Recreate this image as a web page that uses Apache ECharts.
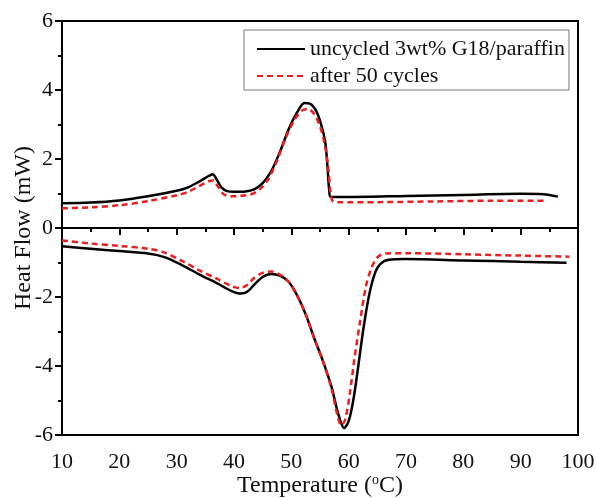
<!DOCTYPE html>
<html>
<head>
<meta charset="utf-8">
<script src="https://cdn.jsdelivr.net/npm/echarts@6/dist/echarts.min.js"></script>
<style>
  html, body { margin: 0; padding: 0; background: #fff; }
  #chart { width: 597px; height: 498px; }
</style>
</head>
<body>
<div id="chart"></div>
<script>
// DSC curves, [temperature, heat flow]
var uncycledHeating = [[10,0.72],[15,0.74],[20,0.8],[25,0.92],[30,1.08],[32,1.18],[34,1.35],[35.5,1.5],[36.3,1.56],[37,1.4],[37.8,1.18],[38.8,1.07],[40,1.05],[42,1.06],[43.5,1.12],[45,1.3],[46.5,1.65],[48,2.2],[49.5,2.85],[51,3.35],[52.3,3.62],[53.3,3.6],[54.3,3.4],[55.2,3.0],[55.9,2.5],[56.3,1.8],[56.6,1.1],[56.9,0.9],[60,0.9],[70,0.93],[80,0.96],[90,0.99],[94,0.98],[96.5,0.91]]
var cycledHeating = [[10,0.57],[15,0.6],[20,0.66],[25,0.78],[30,0.95],[32,1.05],[34,1.22],[35.5,1.35],[36.4,1.38],[37.2,1.2],[38.2,0.98],[39.5,0.92],[41,0.93],[43,0.98],[44.5,1.12],[46,1.42],[47.5,1.95],[49,2.6],[50.5,3.12],[52,3.42],[53,3.44],[54,3.3],[55,2.95],[55.8,2.45],[56.4,1.8],[56.8,1.1],[57.2,0.78],[58,0.75],[65,0.75],[75,0.77],[85,0.79],[94,0.79]]
var uncycledCooling = [[10,-0.53],[15,-0.6],[20,-0.67],[25,-0.74],[28,-0.85],[31,-1.08],[34,-1.35],[37,-1.6],[39.5,-1.82],[41.2,-1.9],[42.3,-1.85],[43.5,-1.65],[45,-1.42],[46.5,-1.33],[48,-1.38],[49.5,-1.55],[51,-1.95],[52.5,-2.5],[54,-3.2],[55.5,-3.85],[57,-4.6],[58.2,-5.4],[59.2,-5.8],[60,-5.6],[60.8,-5],[61.6,-4.1],[62.5,-3.0],[63.5,-2.0],[64.5,-1.35],[65.5,-1.05],[67,-0.92],[70,-0.9],[80,-0.94],[90,-0.98],[98,-1.01]]
var cycledCooling = [[10,-0.36],[15,-0.45],[20,-0.52],[25,-0.6],[28,-0.72],[31,-0.96],[34,-1.23],[37,-1.47],[39.5,-1.68],[41,-1.74],[42.3,-1.65],[43.5,-1.45],[45,-1.3],[46.5,-1.26],[48,-1.35],[49.5,-1.55],[51,-1.95],[52.5,-2.5],[54,-3.2],[55.5,-3.85],[57,-4.65],[58,-5.4],[58.7,-5.72],[59.4,-5.55],[60.2,-4.8],[61,-3.8],[62,-2.7],[63,-1.7],[64,-1.15],[65,-0.85],[66.5,-0.74],[70,-0.73],[80,-0.76],[90,-0.8],[98.5,-0.83]]

var seriesNames = ['uncycled 3wt% G18/paraffin', 'after 50 cycles']

var font = 'Liberation Serif, Times New Roman, serif'
var myChart = echarts.init(document.getElementById('chart'))

function lineSeries(name, data, dashed) {
  return {
    name: name,
    type: 'line',
    data: data,
    symbol: 'none',
    smooth: 0.3,
    lineStyle: {
      color: dashed ? '#ee1c1c' : '#000',
      width: 2.5,
      type: dashed ? [6, 4] : 'solid'
    },
    itemStyle: { color: dashed ? '#ee1c1c' : '#000' }
  }
}

var option = {
  backgroundColor: '#fff',
  animation: false,
  grid: {
    left: 62, right: 19, top: 21, bottom: 63,
    outerBoundsMode: 'none',
    containLabel: false,
    show: true,
    borderColor: '#000',
    borderWidth: 2
  },
  legend: {
    left: 244, top: 30,
    orient: 'vertical',
    align: 'left',
    data: seriesNames,
    itemWidth: 48,
    itemHeight: 14,
    itemGap: 5,
    padding: [8, 4, 3, 12],
    borderColor: '#777',
    borderWidth: 1,
    itemStyle: { opacity: 0 },
    textStyle: { fontFamily: font, fontSize: 22, color: '#111' }
  },
  xAxis: {
    type: 'value',
    min: 10, max: 100, interval: 10,
    name: 'Temperature ({sup|o}C)',
    nameLocation: 'middle',
    nameGap: 38,
    nameMoveOverlap: false,
    nameTextStyle: {
      fontFamily: font, fontSize: 24, color: '#111',
      rich: { sup: { fontFamily: font, fontSize: 14, verticalAlign: 'top', padding: [0, 0, 12, 0] } }
    },
    axisLine: { lineStyle: { color: '#000', width: 2 } },
    axisTick: { inside: false, length: 7, lineStyle: { width: 2 } },
    minorTick: { show: true, splitNumber: 2, length: 4, lineStyle: { color: '#000', width: 2 } },
    axisLabel: { fontFamily: font, fontSize: 22, color: '#111', margin: 16 },
    splitLine: { show: false }
  },
  yAxis: {
    type: 'value',
    min: -6, max: 6, interval: 2,
    name: 'Heat Flow (mW)',
    nameLocation: 'middle',
    nameGap: 26,
    nameMoveOverlap: false,
    nameTextStyle: { fontFamily: font, fontSize: 24, color: '#111' },
    axisLine: { lineStyle: { color: '#000', width: 2 } },
    axisTick: { inside: false, length: 7, lineStyle: { width: 2 } },
    minorTick: { show: true, splitNumber: 2, length: 4, lineStyle: { color: '#000', width: 2 } },
    axisLabel: { fontFamily: font, fontSize: 22, color: '#111', margin: 9 },
    splitLine: { show: false }
  },
  series: [
    lineSeries(seriesNames[0], uncycledHeating, false),
    lineSeries(seriesNames[1], cycledHeating, true),
    lineSeries(seriesNames[0], uncycledCooling, false),
    lineSeries(seriesNames[1], cycledCooling, true)
  ]
}
myChart.setOption(option)
</script>
</body>
</html>
